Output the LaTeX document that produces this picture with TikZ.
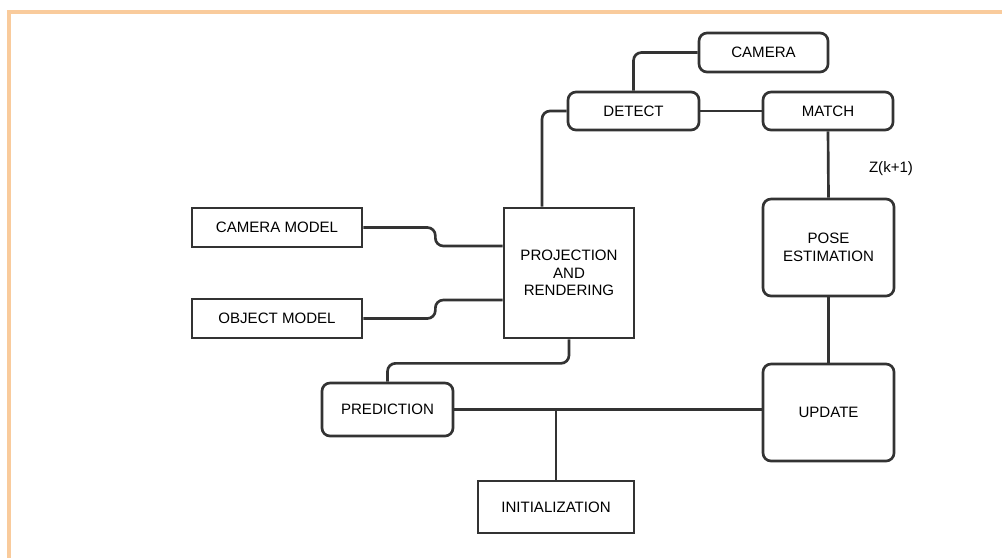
\documentclass[tikz,border=0pt]{standalone}
\usepackage{fontspec}
\setmainfont{Liberation Sans}
\definecolor{linegray}{HTML}{333333}
\definecolor{framepeach}{HTML}{F9CB9C}
\tikzset{
  block/.style={draw=linegray,line width=2pt,inner sep=0pt,align=center},
  rblock/.style={block,rounded corners=6pt},
  conn/.style={draw=linegray,line width=2pt,rounded corners=6pt}
}
\begin{document}
\begin{tikzpicture}[x=0.75pt,y=-0.75pt,font=\fontsize{11.3}{13.2}\selectfont]
  \useasboundingbox (0,0) rectangle (1002,558);
  % frame
  \fill[framepeach] (7,10) rectangle (1002,14);
  \fill[framepeach] (7,10) rectangle (11,558);
  % blocks
  \node[rblock,minimum width=96.75pt,minimum height=29.25pt] (camera) at (763.5,52.5) {CAMERA};
  \node[rblock,minimum width=98.25pt,minimum height=28.5pt] (detect) at (633.5,111) {DETECT};
  \node[rblock,minimum width=97.5pt,minimum height=28.5pt] (match) at (828,111) {MATCH};
  \node[block,minimum width=127.5pt,minimum height=29.25pt] (cammodel) at (277,227.5) {CAMERA MODEL};
  \node[block,minimum width=127.5pt,minimum height=29.25pt] (objmodel) at (277,318.5) {OBJECT MODEL};
  \node[block,minimum width=97.5pt,minimum height=97.5pt] (proj) at (569,273) {PROJECTION\\AND\\RENDERING};
  \node[rblock,minimum width=98.25pt,minimum height=72.75pt] (pose) at (828.5,247.5) {POSE\\ESTIMATION};
  \node[rblock,minimum width=98.25pt,minimum height=72.75pt] (update) at (828.5,412.5) {UPDATE};
  \node[rblock,minimum width=98.25pt,minimum height=39.75pt] (pred) at (387.5,409.5) {PREDICTION};
  \node[block,minimum width=117pt,minimum height=39pt] (init) at (556,507) {INITIALIZATION};
  \node (zlabel) at (891,169) {Z(k+1)};
  % connectors
  \draw[conn] (camera.west) -| (detect.north);
  \draw[conn] (detect.east) -- (match.west);
  \draw[conn] (detect.west) -| ([xshift=-20.25pt]proj.north);
  \draw[conn] (match.south) -- (pose.north);
  \draw[conn] (pose.south) -- (update.north);
  \draw[conn] (cammodel.east) -- ++(72,0) |- ([yshift=20.25pt]proj.west);
  \draw[conn] (objmodel.east) -- ++(72,0) |- ([yshift=-20.25pt]proj.west);
  \draw[conn] (proj.south) -- ++(0,24) -| (pred.north);
  \draw[conn] (pred.east) -- (pred.east -| update.west);
  \draw[conn] (init.north |- pred.east) -- (init.north);
\end{tikzpicture}
\end{document}
